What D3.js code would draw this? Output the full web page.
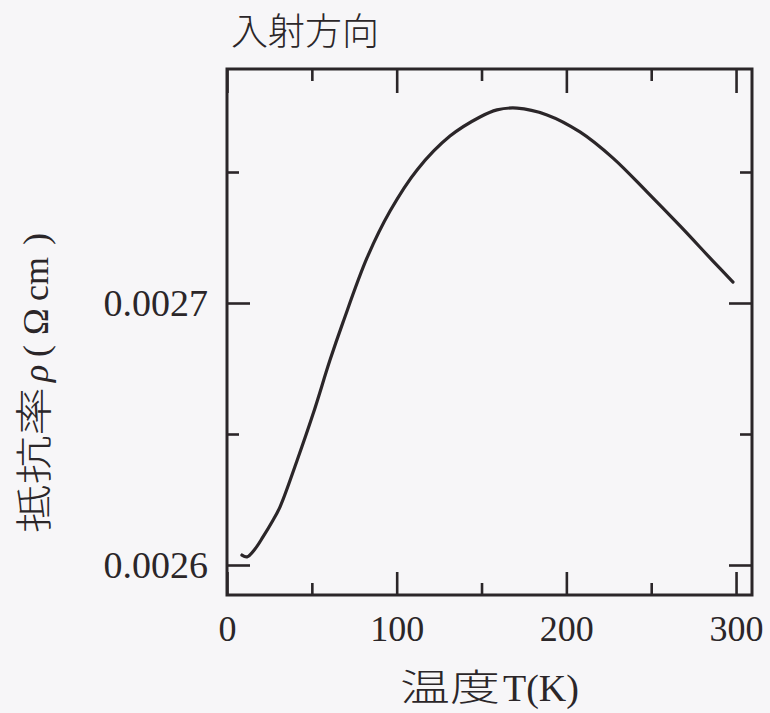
<!DOCTYPE html>
<html><head><meta charset="utf-8">
<script src="https://cdn.jsdelivr.net/npm/d3@7"></script>
<style>
html,body{margin:0;padding:0;background:#f7f6f8;}
svg{display:block;}
</style></head>
<body>
<svg id="c" width="770" height="713"></svg>
<script>
const temperature = [8.8, 11.8, 16.5, 21.2, 26.5, 31.2, 41.2, 50.7, 60.7, 68.4, 82.5, 96.1, 112.0, 131.4, 149.1, 159.1, 170.9, 188.6, 208.0, 227.5, 247.5, 267.0, 286.4, 298.2];
const resistivity = [0.0026038, 0.0026031, 0.0026061, 0.0026107, 0.0026164, 0.0026221, 0.0026397, 0.0026576, 0.0026782, 0.0026927, 0.0027172, 0.0027351, 0.0027508, 0.0027637, 0.0027710, 0.0027737, 0.0027744, 0.0027718, 0.0027653, 0.0027553, 0.0027424, 0.0027294, 0.0027160, 0.0027080];
const xMajorTicks = [0, 100, 200, 300];
const xMinorTicks = [50, 150, 250];
const yMajorTicks = [0.0026, 0.0027];
const yMinorTicks = [0.00265, 0.00275];
const yTickLabels = ["0.0026", "0.0027"];
const xTitleCJK = "温度";
const xTitleLatin = "T(K)";
const yTitleCJK = "抵抗率";
const title = "入射方向";

const ink = "#2b2629";
const serif = "'Liberation Serif','DejaVu Serif',serif";
const cjk = "'Noto Sans CJK JP','Noto Sans CJK SC',sans-serif";

const L = 227, R = 752, T = 69, B = 595;
const svg = d3.select("#c");
const x = d3.scaleLinear().domain([0, 309.4]).range([L, R]);
const y = d3.scaleLinear().domain([0.0026 - 30/262*0.0001, 0.0027 + 234/262*0.0001]).range([B, T]);

function styleAxis(fs){
  return g => {
    g.select(".domain").remove();
    g.selectAll(".tick line").attr("stroke", ink).attr("stroke-width", 2.6);
    g.selectAll(".tick text").attr("fill", ink).attr("font-family", serif).attr("font-size", fs);
  };
}

// bottom
svg.append("g").attr("transform", `translate(0,${B})`)
  .call(d3.axisBottom(x).tickValues(xMajorTicks).tickSize(-23).tickPadding(20).tickFormat(d3.format("d")))
  .call(styleAxis(36));
svg.append("g").attr("transform", `translate(0,${B})`)
  .call(d3.axisBottom(x).tickValues(xMinorTicks).tickSize(-12).tickFormat(""))
  .call(styleAxis(36));
// top
svg.append("g").attr("transform", `translate(0,${T})`)
  .call(d3.axisTop(x).tickValues(xMajorTicks).tickSize(-24).tickFormat(""))
  .call(styleAxis(36));
svg.append("g").attr("transform", `translate(0,${T})`)
  .call(d3.axisTop(x).tickValues(xMinorTicks).tickSize(-12).tickFormat(""))
  .call(styleAxis(36));
// left
svg.append("g").attr("transform", `translate(${L},0)`)
  .call(d3.axisLeft(y).tickValues(yMajorTicks).tickSize(-23).tickPadding(19).tickFormat((d,i)=>yTickLabels[i]))
  .call(styleAxis(38));
svg.append("g").attr("transform", `translate(${L},0)`)
  .call(d3.axisLeft(y).tickValues(yMinorTicks).tickSize(-12).tickFormat(""))
  .call(styleAxis(38));
// right
svg.append("g").attr("transform", `translate(${R},0)`)
  .call(d3.axisRight(y).tickValues(yMajorTicks).tickSize(-23).tickFormat(""))
  .call(styleAxis(38));
svg.append("g").attr("transform", `translate(${R},0)`)
  .call(d3.axisRight(y).tickValues(yMinorTicks).tickSize(-12).tickFormat(""))
  .call(styleAxis(38));

// frame
svg.append("rect").attr("x", L).attr("y", T).attr("width", R-L).attr("height", B-T)
  .attr("fill", "none").attr("stroke", ink).attr("stroke-width", 3);

// curve
const pts = temperature.map((t,i)=>[t, resistivity[i]]);
svg.append("path").datum(pts)
  .attr("fill", "none").attr("stroke", ink).attr("stroke-width", 3.2)
  .attr("stroke-linejoin", "round").attr("stroke-linecap", "round")
  .attr("d", d3.line().x(d=>x(d[0])).y(d=>y(d[1])).curve(d3.curveCatmullRom.alpha(0.5)));

// title
svg.append("text").attr("x", 231).attr("y", 45)
  .attr("font-family", cjk).attr("font-weight", 300).attr("font-size", 37).attr("fill", ink).text(title);

// x title
const xg = svg.append("text").attr("y", 701).attr("fill", ink);
xg.append("tspan").attr("x", 400).attr("font-family", cjk).attr("font-weight", 300).attr("font-size", 37)
  .attr("textLength", 100).attr("lengthAdjust", "spacingAndGlyphs").text(xTitleCJK);
xg.append("tspan").attr("x", 503).attr("font-family", serif).attr("font-size", 38).text(xTitleLatin);

// y title (rotated; local x runs upward from screen y=533)
const yt = svg.append("text").attr("transform", `translate(48,533) rotate(-90)`).attr("fill", ink);
yt.append("tspan").attr("x", 0).attr("font-family", cjk).attr("font-weight", 300).attr("font-size", 37)
  .attr("textLength", 146).attr("lengthAdjust", "spacingAndGlyphs").text(yTitleCJK);
yt.append("tspan").attr("x", 151).attr("font-family", serif).attr("font-size", 36).attr("font-style", "italic").text("ρ");
yt.append("tspan").attr("x", 176).attr("font-family", serif).attr("font-size", 36).text("(");
yt.append("tspan").attr("x", 198).attr("font-family", serif).attr("font-size", 36).text("Ω");
yt.append("tspan").attr("x", 232).attr("font-family", serif).attr("font-size", 36).text("cm");
yt.append("tspan").attr("x", 288).attr("font-family", serif).attr("font-size", 36).text(")");
</script>
</body></html>
